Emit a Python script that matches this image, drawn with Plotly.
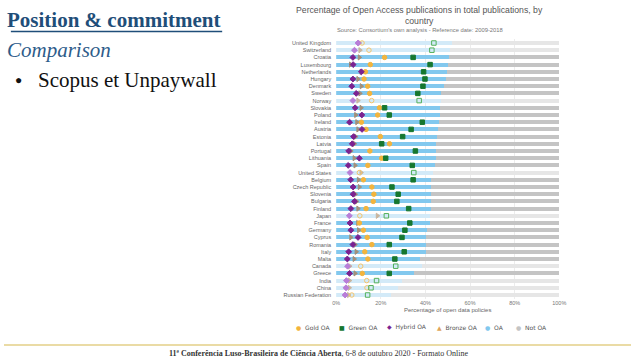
import plotly.graph_objects as go

countries = ["United Kingdom", "Switzerland", "Croatia", "Luxembourg", "Netherlands", "Hungary",
             "Denmark", "Sweden", "Norway", "Slovakia", "Poland", "Ireland", "Austria", "Estonia",
             "Latvia", "Portugal", "Lithuania", "Spain", "United States", "Belgium", "Czech Republic",
             "Slovenia", "Bulgaria", "Finland", "Japan", "France", "Germany", "Cyprus", "Romania",
             "Italy", "Malta", "Canada", "Greece", "India", "China", "Russian Federation"]
oa_share = [52.0, 51.2, 50.5, 50.1, 49.8, 49.3, 48.5, 47.1, 47.1, 46.4, 46.4, 46.0, 45.7, 45.2,
            44.9, 44.9, 44.6, 44.3, 43.2, 42.7, 42.4, 42.4, 42.4, 42.3, 42.0, 42.0, 40.7, 40.4,
            40.4, 40.4, 37.6, 38.3, 34.8, 29.5, 27.8, 24.4]
gold_oa = [11.6, 14.7, 21.7, 15.3, 13.1, 12.5, 14.1, 15.0, 15.9, 19.4, 18.6, 11.3, 13.4, 19.8,
           23.9, 15.1, 20.4, 14.2, 10.4, 12.2, 16.0, 16.9, 16.6, 13.4, 10.6, 10.4, 12.2, 13.9,
           16.0, 12.8, 14.2, 11.0, 11.7, 13.7, 13.8, 7.0]
green_oa = [43.8, 42.9, 34.5, 42.1, 39.2, 39.8, 38.9, 36.6, 37.2, 21.7, 23.8, 38.6, 33.6, 29.8,
            20.4, 35.5, 22.2, 34.1, 34.8, 34.5, 25.0, 27.8, 27.2, 32.5, 22.5, 33.0, 30.8, 29.5,
            23.8, 30.5, 26.3, 26.7, 23.8, 18.1, 15.6, 14.1]
hybrid_oa = [9.8, 8.2, 7.5, 7.6, 11.3, 7.5, 7.0, 9.0, 7.5, 8.5, 11.5, 6.0, 11.6, 7.8,
             7.2, 5.6, 10.4, 5.4, 6.2, 6.5, 7.6, 7.6, 8.2, 6.6, 5.9, 6.2, 6.6, 9.8,
             7.5, 5.6, 5.0, 5.1, 6.0, 4.6, 4.4, 4.0]
bronze_oa = [10.5, 10.7, 10.4, 6.5, 11.2, 9.8, 11.3, 10.7, 9.8, 11.2, 8.8, 9.3, 9.8, 8.8,
             8.2, 6.6, 8.1, 8.5, 11.2, 10.0, 10.4, 8.6, 9.2, 9.8, 18.5, 9.7, 10.1, 6.6,
             8.5, 9.0, 8.1, 6.1, 8.5, 6.0, 5.9, 5.6]
non_eu = ["United Kingdom", "Switzerland", "Norway", "United States", "Japan", "Canada",
          "India", "China", "Russian Federation"]
tick_vals = [0, 20, 40, 60, 80, 100]
tick_text = ["0%", "20%", "40%", "60%", "80%", "100%"]
legend_names = ["Gold OA", "Green OA", "Hybrid OA", "Bronze OA", "OA", "Not OA"]

W, H = 638, 359
FONT = "Liberation Sans"
SERIF = "Liberation Serif"

C_GOLD, C_GREEN, C_HYBRID, C_BRONZE = "#f3b43c", "#16772f", "#7b2290", "#a48f78"
C_OA, C_NOTOA = "#82c8ee", "#c4c4c4"


def px_x(v):
    return v / W


def px_y(v):
    return 1 - v / H


is_ext = [c in non_eu for c in countries]
not_oa = [100 - v for v in oa_share]

fig = go.Figure()
fig.add_trace(go.Bar(orientation="h", y=countries, x=oa_share, width=0.55, name="OA",
                     marker=dict(color=["#d3eaf8" if e else C_OA for e in is_ext], line_width=0),
                     showlegend=False, hoverinfo="skip"))
fig.add_trace(go.Bar(orientation="h", y=countries, x=not_oa, width=0.55, name="Not OA",
                     marker=dict(color=["#e6e6e6" if e else C_NOTOA for e in is_ext], line_width=0),
                     showlegend=False, hoverinfo="skip"))


def marker_trace(name, vals, sym_in, sym_out, col_in, col_out, size):
    return go.Scatter(x=vals, y=countries, mode="markers", name=name, showlegend=False, hoverinfo="skip",
                      marker=dict(symbol=[sym_out if e else sym_in for e in is_ext],
                                  color=[col_out if e else col_in for e in is_ext],
                                  size=size,
                                  line=dict(width=1, color=[col_out if e else col_in for e in is_ext])))


fig.add_trace(marker_trace("Bronze OA", bronze_oa, "triangle-right", "triangle-right", C_BRONZE, "#c9b59e", 4.5))
fig.add_trace(marker_trace("Gold OA", gold_oa, "circle", "circle-open", C_GOLD, "#f5c46a", 4.5))
fig.add_trace(marker_trace("Hybrid OA", hybrid_oa, "diamond", "diamond", C_HYBRID, "#b87ed8", 4.5))
fig.add_trace(marker_trace("Green OA", green_oa, "square", "square-open", C_GREEN, "#52b05a", 4.5))

# legend drawn as text entries (symbol glyph + label)
legend_glyphs = ["●", "■", "◆", "▲", "●", "●"]
legend_cols = [C_GOLD, C_GREEN, C_HYBRID, "#e0a35a", C_OA, C_NOTOA]
legend_x = [298, 342, 391, 442, 490, 522]
annotations = []
for name, g, col, lx in zip(legend_names, legend_glyphs, legend_cols, legend_x):
    annotations.append(dict(
        text=f"<span style='color:{col}'>{g}</span>  {name}", x=px_x(lx - 3), y=px_y(327),
        xref="paper", yref="paper", showarrow=False, xanchor="left", yanchor="middle",
        font=dict(size=6, color="#555555", family="DejaVu Sans")))

annotations += [
    dict(text="Percentage of Open Access publications in total publications, by<br>country",
         x=px_x(423), y=px_y(16), xref="paper", yref="paper", showarrow=False,
         font=dict(size=8.7, color="#555555", family=FONT), xanchor="center", yanchor="middle"),
    dict(text="Source: Consortium's own analysis - Reference date: 2009-2018",
         x=px_x(423), y=px_y(30), xref="paper", yref="paper", showarrow=False,
         font=dict(size=5.8, color="#777777", family=FONT), xanchor="center", yanchor="middle"),
    dict(text="<b>Position &amp; commitment</b>", x=px_x(1.5), y=px_y(20), xref="paper", yref="paper",
         showarrow=False, xanchor="left", yanchor="middle",
         font=dict(size=21, color="#1f4e79", family=SERIF)),
    dict(text="<i>Comparison</i>", x=px_x(1.5), y=px_y(50), xref="paper", yref="paper",
         showarrow=False, xanchor="left", yanchor="middle",
         font=dict(size=21, color="#2e5c8a", family=SERIF)),
    dict(text="●", x=px_x(9), y=px_y(80), xref="paper", yref="paper",
         showarrow=False, xanchor="left", yanchor="middle",
         font=dict(size=12, color="#111111", family=FONT)),
    dict(text="Scopus et Unpaywall", x=px_x(33), y=px_y(80), xref="paper", yref="paper",
         showarrow=False, xanchor="left", yanchor="middle",
         font=dict(size=21, color="#111111", family=SERIF)),
    dict(text="<b>11ª Conferência Luso-Brasileira de Ciência Aberta</b>, 6-8 de outubro 2020 - Formato Online",
         x=px_x(320), y=px_y(353), xref="paper", yref="paper", showarrow=False,
         xanchor="center", yanchor="middle", font=dict(size=8, color="#333333", family=SERIF)),
]

fig.update_layout(
    width=W, height=H, margin=dict(l=0, r=0, t=0, b=0),
    paper_bgcolor="white", plot_bgcolor="white",
    barmode="stack", bargap=0.45, showlegend=False,
    font=dict(family=FONT, size=6, color="#666666"),
    xaxis=dict(domain=[px_x(338), px_x(565)], range=[0, 100], tickvals=tick_vals, ticktext=tick_text,
               showgrid=True, gridcolor="#ececec", gridwidth=1, zeroline=False, showline=False,
               tickfont=dict(size=5.5, color="#777777"), ticks="",
               title=dict(text="Percentage of open data policies", font=dict(size=6, color="#666666"),
                          standoff=2)),
    yaxis=dict(domain=[px_y(298.6), px_y(39.4)], type="category", categoryarray=countries,
               range=[35.5, -0.5], showgrid=False, zeroline=False, showline=False, ticks="",
               tickfont=dict(size=5.5, color="#666666"), ticklabelstandoff=4),
    annotations=annotations,
    shapes=[
        dict(type="line", xref="paper", yref="paper", x0=px_x(7), x1=px_x(222), y0=px_y(31.5), y1=px_y(31.5),
             line=dict(color="#1f4e79", width=1.5)),
        dict(type="line", xref="paper", yref="paper", x0=0, x1=1, y0=px_y(345), y1=px_y(345),
             line=dict(color="#d6b84c", width=1.2)),
    ],
)

fig.write_html("out.html", config={"displayModeBar": False},
               post_script="document.body.style.margin='0';document.body.style.padding='0';")
